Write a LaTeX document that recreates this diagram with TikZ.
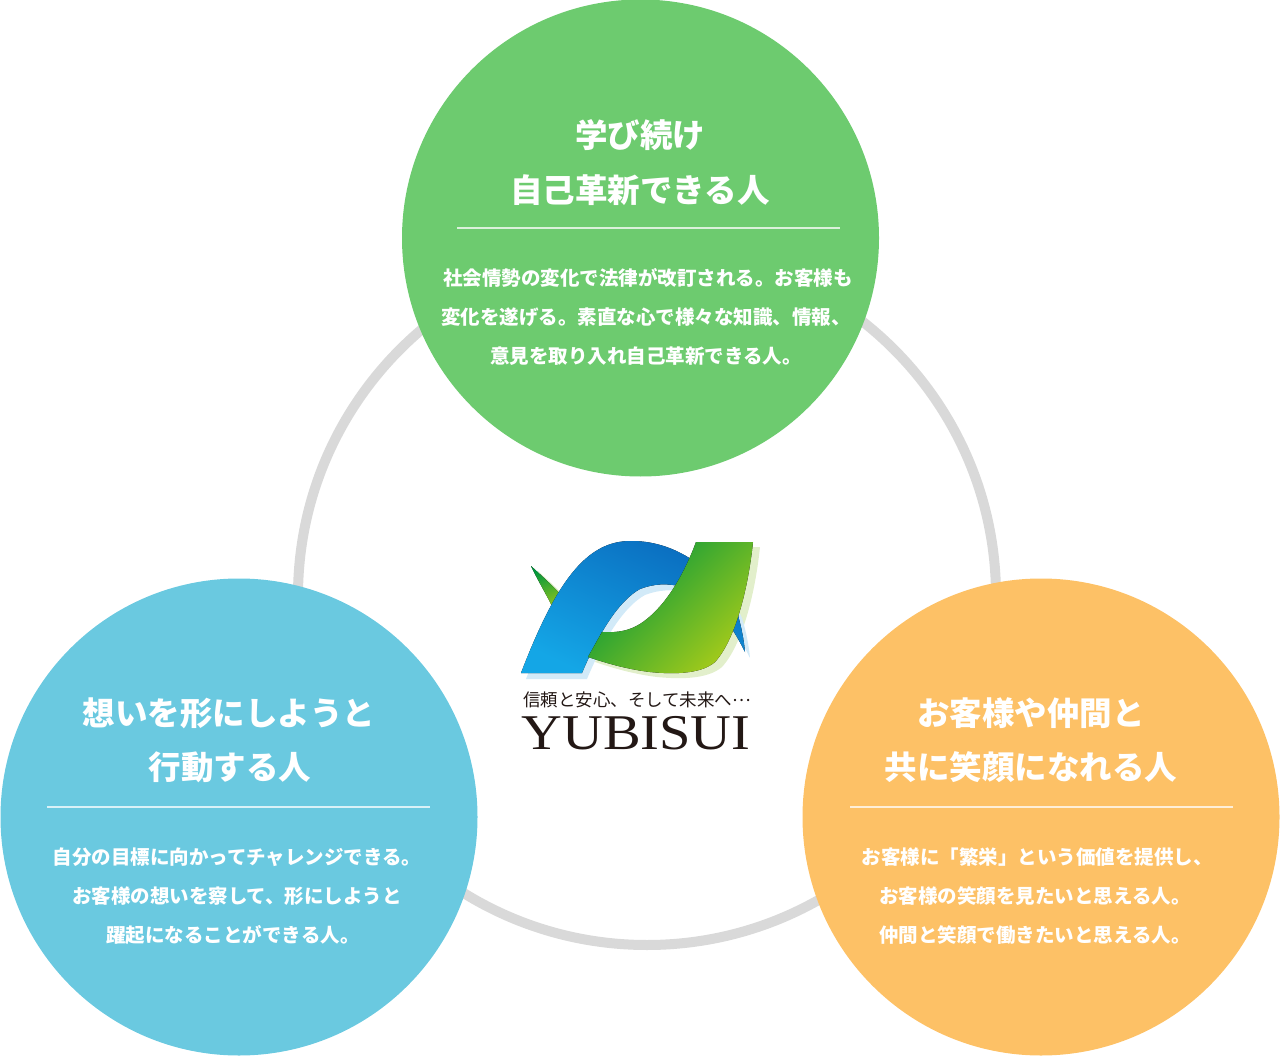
\documentclass[tikz,border=0pt]{standalone}
\usepackage{fontspec}
\newfontfamily\cjk{Noto Sans CJK JP}
\newfontfamily\logoserif{Liberation Serif}

\definecolor{learngreen}{HTML}{6DCB6F}
\definecolor{actblue}{HTML}{6AC9E0}
\definecolor{smileorange}{HTML}{FDC166}
\definecolor{ringgray}{HTML}{D9D9D9}
\definecolor{logoink}{HTML}{231815}
\definecolor{bluedark}{HTML}{0A6BBE}
\definecolor{bluelight}{HTML}{14A6E6}
\definecolor{blueshade}{HTML}{D2EAF8}
\definecolor{greendark}{HTML}{00963C}
\definecolor{greenlight}{HTML}{A5CB1A}
\definecolor{greenshade}{HTML}{E2EFCB}

\tikzset{
  bubble/.style={circle,minimum size=477pt,inner sep=0pt},
  headline/.style={text=white,inner sep=0pt,font=\cjk\bfseries\fontsize{32.5}{40}\selectfont},
  bodyline/.style={text=white,inner sep=0pt,font=\cjk\bfseries\fontsize{19.5}{24}\selectfont},
  rule/.style={white,opacity=0.75,line width=1.2pt},
}

\begin{document}
\begin{tikzpicture}[x=1pt,y=-1pt]
  \useasboundingbox (0,0) rectangle (1280,1056);
  % ring behind the three circles
  \draw[ringgray,line width=10pt] (647,596) circle (349pt);

  \node[bubble,fill=learngreen] (learn) at (640.5,238) {};
  \node[bubble,fill=actblue] (act) at (239,817) {};
  \node[bubble,fill=smileorange] (smile) at (1041,817) {};

  % top circle
  \node[headline] (learnA) at (640,135) {学び続け};
  \node[headline] (learnB) at (640,190) {自己革新できる人};
  \coordinate (learnL) at (457,228);
  \coordinate (learnR) at (840,228);
  \draw[rule] (learnL) -- (learnR);
  \node[bodyline] (learn1) at (648,278) {社会情勢の変化で法律が改訂される。お客様も};
  \node[bodyline] (learn2) at (646,317) {変化を遂げる。素直な心で様々な知識、情報、};
  \node[bodyline] (learn3) at (646,356) {意見を取り入れ自己革新できる人。};

  % left circle
  \node[headline] (actA) at (229,713) {想いを形にしようと};
  \node[headline] (actB) at (230,767) {行動する人};
  \coordinate (actL) at (47,807);
  \coordinate (actR) at (430,807);
  \draw[rule] (actL) -- (actR);
  \node[bodyline] (act1) at (237,857) {自分の目標に向かってチャレンジできる。};
  \node[bodyline] (act2) at (237,896) {お客様の想いを察して、形にしようと};
  \node[bodyline] (act3) at (233,935) {躍起になることができる人。};

  % right circle
  \node[headline] (smileA) at (1031,713) {お客様や仲間と};
  \node[headline] (smileB) at (1031,767) {共に笑顔になれる人};
  \coordinate (smileL) at (850,807);
  \coordinate (smileR) at (1233,807);
  \draw[rule] (smileL) -- (smileR);
  \node[bodyline] (smile1) at (1037,857) {お客様に「繁栄」という価値を提供し、};
  \node[bodyline] (smile2) at (1035,896) {お客様の笑顔を見たいと思える人。};
  \node[bodyline] (smile3) at (1035,935) {仲間と笑顔で働きたいと思える人。};

  % logo mark
  \begin{scope}[shift={(7,5)}]
    \fill[greenshade] (696,542) -- (753,542) .. controls (748,590) and (735,640) .. (715,662) .. controls (700,675) and (670,674) .. (650,672) .. controls (625,669) and (603,662) .. (588,657) -- (602,632) .. controls (620,633) and (630,630) .. (640,624) .. controls (662,610) and (682,580) .. (696,542) -- cycle;
    \fill[greenshade] (531,566) .. controls (540,585) and (550,600) .. (556,615) -- (566,600) .. controls (555,588) and (542,576) .. (531,566) -- cycle;
  \end{scope}
  \fill[top color=greendark,bottom color=greenlight,shading angle=20]
    (531,566) .. controls (540,585) and (550,600) .. (556,615) -- (566,600) .. controls (555,588) and (542,576) .. (531,566) -- cycle;
  \begin{scope}[shift={(5,6)}]
    \fill[blueshade] (521,673) .. controls (555,585) and (585,540) .. (632,541) .. controls (680,541) and (720,575) .. (737,612) .. controls (741,625) and (744,640) .. (745,652) .. controls (738,638) and (728,620) .. (712,604) .. controls (695,588) and (668,578) .. (640,589) .. controls (620,600) and (600,630) .. (582,673) -- cycle;
  \end{scope}
  \fill[top color=bluedark,bottom color=bluelight,shading angle=-25]
    (521,673) .. controls (555,585) and (585,540) .. (632,541) .. controls (680,541) and (720,575) .. (737,612) .. controls (741,625) and (744,640) .. (745,652) .. controls (738,638) and (728,620) .. (712,604) .. controls (695,588) and (668,578) .. (640,589) .. controls (620,600) and (600,630) .. (582,673) -- cycle;
  \fill[top color=greendark,middle color=greendark!55!greenlight,bottom color=greenlight,shading angle=45]
    (696,542) -- (753,542) .. controls (748,590) and (735,640) .. (715,662) .. controls (700,675) and (670,674) .. (650,672) .. controls (625,669) and (603,662) .. (588,657) -- (602,632) .. controls (620,633) and (630,630) .. (640,624) .. controls (662,610) and (682,580) .. (696,542) -- cycle;

  \node[text=logoink,inner sep=0pt,font=\cjk\fontsize{17.5}{20}\selectfont] (tagline) at (637,700) {信頼と安心、そして未来へ\raisebox{0.3em}{…}};
  \node[text=logoink,inner sep=0pt,font=\logoserif\fontsize{50}{56}\selectfont] (brand) at (636,733.5) {\scalebox{1.13}[1]{YUBISUI}};
\end{tikzpicture}
\end{document}
